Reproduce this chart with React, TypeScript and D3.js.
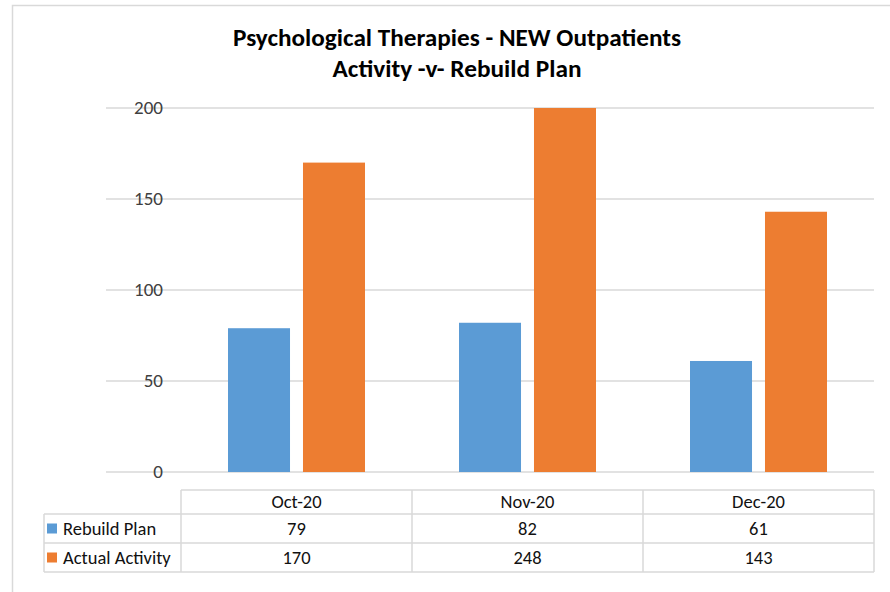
import * as d3 from "d3";

const categories = ["Oct-20", "Nov-20", "Dec-20"];
const seriesNames = ["Rebuild Plan", "Actual Activity"];
const rebuildPlan = [79, 82, 61];
const actualActivity = [170, 248, 143];
const yTicks = [0, 50, 100, 150, 200];
const colors = ["#5B9BD5", "#ED7D31"];

const FONT = "Carlito, Calibri, 'Liberation Sans Narrow', 'Open Sans', sans-serif";

const App = () => {
  const width = 890;
  const height = 592;
  const plot = { left: 181, right: 874, top: 108, bottom: 472 };
  const gridLeft = 106;
  const tableLeft = 44;
  const rowLines = [490, 514, 543, 572];

  const y = d3.scaleLinear().domain([0, 200]).range([plot.bottom, plot.top]);
  const x0 = d3.scaleBand().domain(categories).range([plot.left, plot.right]);
  const x1 = d3
    .scaleBand()
    .domain(seriesNames)
    .range([47, x0.bandwidth() - 47])
    .paddingInner(0.173);

  const series = [rebuildPlan, actualActivity];

  return (
    <svg
      width={width}
      height={height}
      style={{ position: "absolute", left: 0, top: 0, background: "#fff" }}
    >
      <defs>
        <clipPath id="plotClip">
          <rect x={gridLeft} y={plot.top} width={plot.right - gridLeft} height={plot.bottom - plot.top} />
        </clipPath>
      </defs>
      {/* chart frame */}
      <path d={`M12.5,${height} V5.5 H${width}`} fill="none" stroke="#D9D9D9" strokeWidth={1.5} />

      {/* title */}
      <text x={457} y={46} textAnchor="middle" fontFamily={FONT} fontWeight="bold" fontSize={24.5} fill="#000"
        textLength={448} lengthAdjust="spacingAndGlyphs">
        Psychological Therapies - NEW Outpatients
      </text>
      <text x={457} y={77} textAnchor="middle" fontFamily={FONT} fontWeight="bold" fontSize={24.5} fill="#000"
        textLength={249} lengthAdjust="spacingAndGlyphs">
        Activity -v- Rebuild Plan
      </text>

      {/* gridlines + y ticks */}
      {yTicks.map((t) => (
        <g key={t}>
          <line x1={gridLeft} x2={plot.right} y1={y(t)} y2={y(t)} stroke="#D9D9D9" strokeWidth={1.5} />
          <text x={163} y={y(t) + 6} textAnchor="end" fontFamily={FONT} fontSize={19} fill="#404040">
            {t}
          </text>
        </g>
      ))}

      {/* bars */}
      <g clipPath="url(#plotClip)">
        {categories.map((c, i) =>
          seriesNames.map((s, j) => {
            const v = series[j][i];
            return (
              <rect
                key={c + s}
                x={(x0(c) ?? 0) + (x1(s) ?? 0)}
                y={y(v)}
                width={x1.bandwidth()}
                height={plot.bottom - y(v)}
                fill={colors[j]}
              />
            );
          })
        )}
      </g>

      {/* data table */}
      <g stroke="#D9D9D9" strokeWidth={1.5} fill="none">
        <line x1={plot.left} x2={plot.right} y1={rowLines[0]} y2={rowLines[0]} />
        {rowLines.slice(1).map((ly) => (
          <line key={ly} x1={tableLeft} x2={plot.right} y1={ly} y2={ly} />
        ))}
        <line x1={tableLeft} x2={tableLeft} y1={rowLines[1]} y2={rowLines[3]} />
        {categories.map((c) => (
          <line key={c} x1={x0(c)} x2={x0(c)} y1={rowLines[0]} y2={rowLines[3]} />
        ))}
        <line x1={plot.right} x2={plot.right} y1={rowLines[0]} y2={rowLines[3]} />
      </g>
      {categories.map((c) => (
        <text key={c} x={(x0(c) ?? 0) + x0.bandwidth() / 2} y={(rowLines[0] + rowLines[1]) / 2 + 6}
          textAnchor="middle" fontFamily={FONT} fontSize={18.5} fill="#111">
          {c}
        </text>
      ))}
      {seriesNames.map((s, j) => {
        const cy = (rowLines[j + 1] + rowLines[j + 2]) / 2;
        return (
          <g key={s}>
            <rect x={47} y={cy - 5} width={10} height={10} fill={colors[j]} />
            <text x={63} y={cy + 6} fontFamily={FONT} fontSize={18.5} fill="#111">
              {s}
            </text>
            {categories.map((c, i) => (
              <text key={c} x={(x0(c) ?? 0) + x0.bandwidth() / 2} y={cy + 6}
                textAnchor="middle" fontFamily={FONT} fontSize={18.5} fill="#111">
                {series[j][i]}
              </text>
            ))}
          </g>
        );
      })}
    </svg>
  );
};

export default App;
